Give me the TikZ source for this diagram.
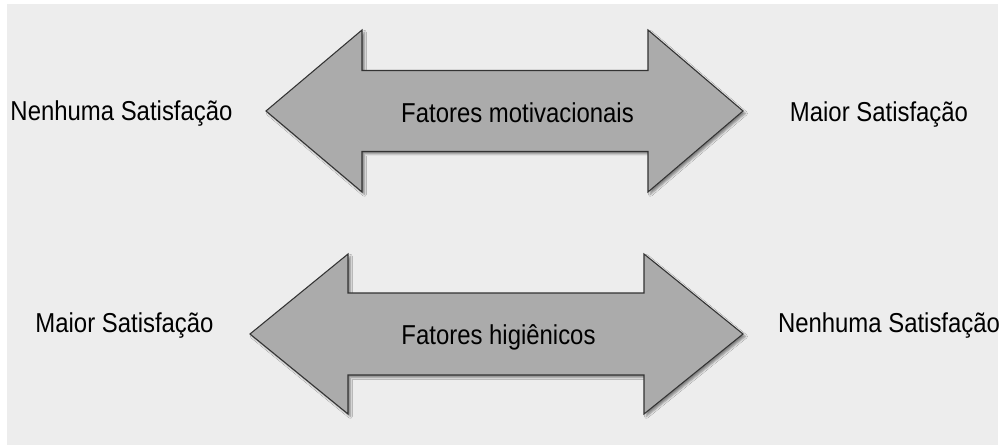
\documentclass[tikz,border=0pt]{standalone}
\usepackage{fontspec}
\setmainfont{Liberation Sans}[FakeStretch=0.875]
\usetikzlibrary{
    positioning,
    shadows.blur,
}
\definecolor{bggray}{RGB}{237,237,237}
\definecolor{arrowgray}{RGB}{171,171,171}

\begin{document}
\begin{tikzpicture}[
    x=0.75pt, y=-0.75pt,
    bigarrow/.style={draw=black!80, fill=arrowgray, line width=0.8pt, line join=miter,
                     blur shadow={shadow xshift=1.8pt, shadow yshift=-1.8pt,
                                  shadow blur radius=1.5pt, shadow opacity=45}},
    endtext/.style={font=\fontsize{20.5}{24}\selectfont, text=black, inner sep=0pt, anchor=base},
]

\useasboundingbox (0,0) rectangle (1002,445);
\fill[white] (0,0) rectangle (1002,445);
\fill[bggray] (7,4) rectangle (998,445);

% motivational factors
\draw[bigarrow] (266,111) -- (362,30) -- (362,70.5) -- (648,70.5) -- (648,30)
    -- (743,111) -- (648,192) -- (648,151.5) -- (362,151.5) -- (362,192) -- cycle;
\node[endtext] (motiv) at (517.5,123) {Fatores motivacionais};
\node[endtext] (motivLeft) at (121.5,121) {Nenhuma Satisfação};
\node[endtext] (motivRight) at (879,122) {Maior Satisfação};

% hygiene factors
\draw[bigarrow] (250,334) -- (348,254) -- (348,293) -- (644,293) -- (644,254)
    -- (743,334) -- (644,414) -- (644,375) -- (348,375) -- (348,414) -- cycle;
\node[endtext] (hyg) at (498.5,344) {Fatores higiênicos};
\node[endtext] (hygLeft) at (124.5,332) {Maior Satisfação};
\node[endtext] (hygRight) at (889,332) {Nenhuma Satisfação};

\end{tikzpicture}
\end{document}
